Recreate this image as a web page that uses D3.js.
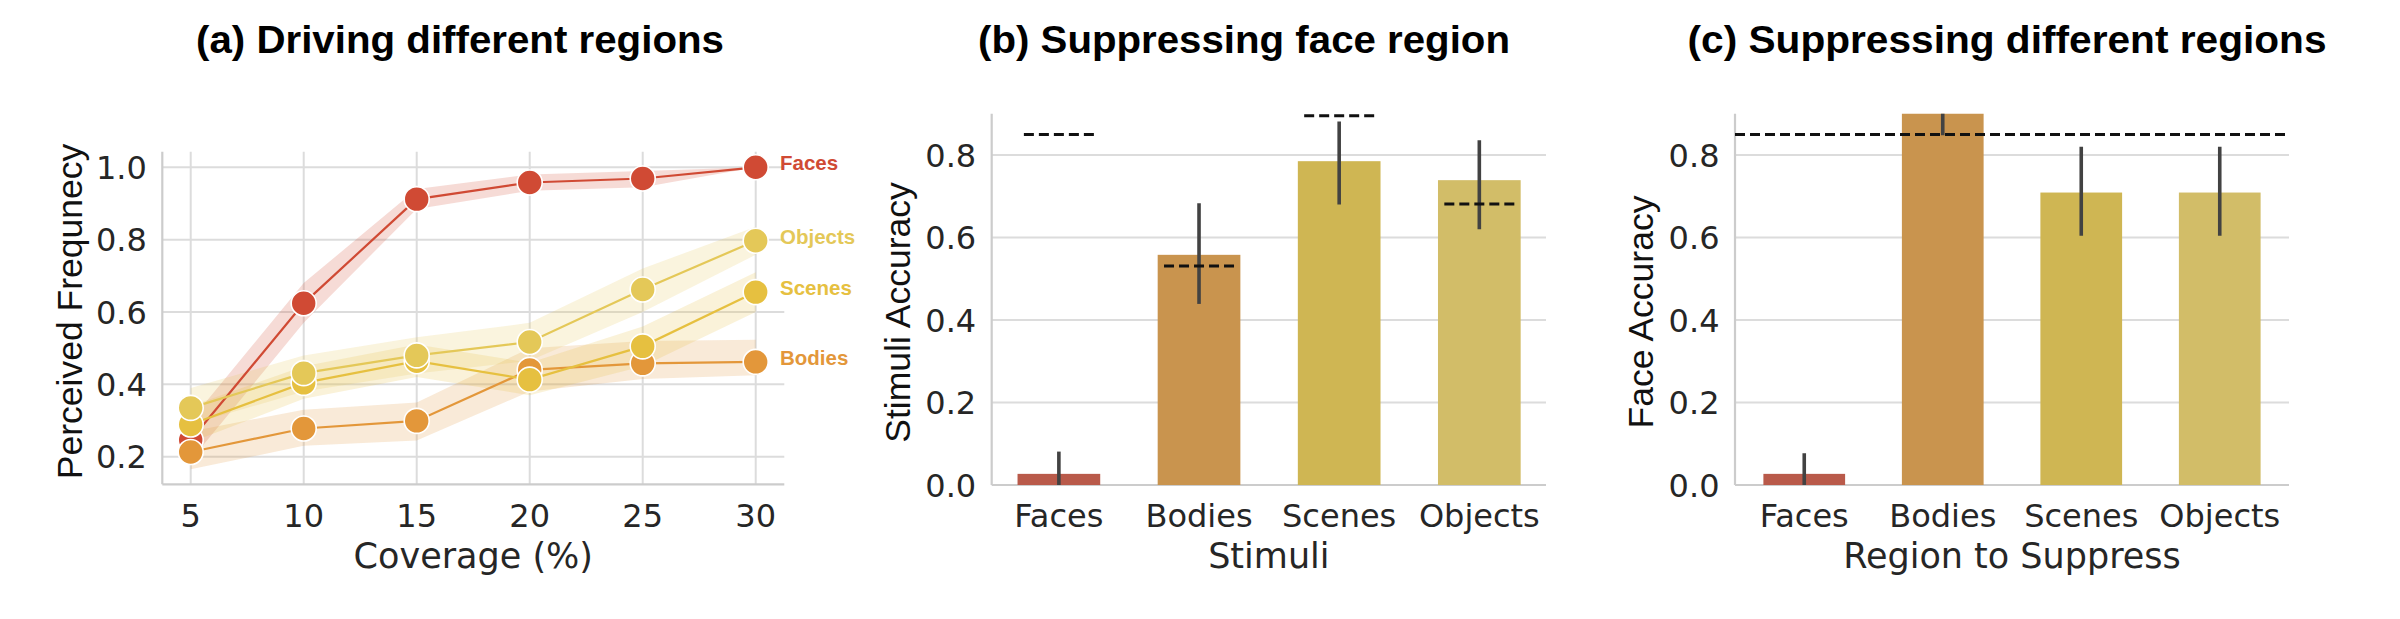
<!DOCTYPE html>
<html>
<head>
<meta charset="utf-8">
<script src="https://cdn.jsdelivr.net/npm/d3@7"></script>
<style>
  html, body { margin: 0; padding: 0; background: #ffffff; }
  svg { display: block; }
</style>
</head>
<body>
<svg id="chart" width="2400" height="619"></svg>
<script>
// ---------------- DATA ----------------
// Panel (a): perceived frequency vs. coverage
const coverage = [5, 10, 15, 20, 25, 30];
const facesMean   = [0.246, 0.624, 0.912, 0.958, 0.969, 1.000];
const facesLo     = [0.190, 0.570, 0.885, 0.935, 0.945, 1.000];
const facesHi     = [0.300, 0.680, 0.940, 0.980, 0.990, 1.000];
const bodiesMean  = [0.213, 0.278, 0.299, 0.440, 0.458, 0.462];
const bodiesLo    = [0.165, 0.230, 0.245, 0.380, 0.415, 0.425];
const bodiesHi    = [0.270, 0.330, 0.350, 0.500, 0.520, 0.523];
const scenesMean  = [0.289, 0.404, 0.464, 0.413, 0.505, 0.655];
const scenesLo    = [0.240, 0.360, 0.420, 0.370, 0.450, 0.600];
const scenesHi    = [0.340, 0.450, 0.510, 0.460, 0.560, 0.710];
const objectsMean = [0.335, 0.431, 0.480, 0.517, 0.662, 0.797];
const objectsLo   = [0.290, 0.380, 0.430, 0.465, 0.600, 0.758];
const objectsHi   = [0.390, 0.480, 0.530, 0.570, 0.720, 0.836];
const ticksA_x = [5, 10, 15, 20, 25, 30];
const ticksA_y = [0.2, 0.4, 0.6, 0.8, 1.0];

// Panel (b): suppressing face region
const categories = ["Faces", "Bodies", "Scenes", "Objects"];
const accB      = [0.027, 0.558, 0.785, 0.739];
const errLoB    = [0.000, 0.439, 0.680, 0.620];
const errHiB    = [0.081, 0.683, 0.881, 0.836];
const baselineB = [0.850, 0.531, 0.895, 0.681];

// Panel (c): suppressing different regions
const accC      = [0.027, 0.950, 0.709, 0.709];
const errLoC    = [0.000, 0.848, 0.604, 0.604];
const errHiC    = [0.077, 1.050, 0.820, 0.820];
const baselineC = 0.85;
const ticksBC_y = [0.0, 0.2, 0.4, 0.6, 0.8];

// ---------------- STYLE ----------------
const lineColors = { Faces: "#d04a34", Bodies: "#e3973a", Scenes: "#e6c040", Objects: "#e4c858" };
const barColors  = { Faces: "#b95a4a", Bodies: "#c9944e", Scenes: "#cfb653", Objects: "#d2bd68" };
const gridColor = "#dcdcdc", spineColor = "#cccccc", textColor = "#262626";
const tickFont = "DejaVu Sans", labelFont = "Liberation Sans, Arial, sans-serif";

const svg = d3.select("#chart");
svg.append("rect").attr("width", 2400).attr("height", 619).attr("fill", "#fff");

function title(x, txt, len) {
  svg.append("text").attr("x", x).attr("y", 53).attr("text-anchor", "middle")
    .attr("font-family", labelFont).attr("font-weight", "bold").attr("font-size", 39)
    .attr("textLength", len).attr("lengthAdjust", "spacingAndGlyphs")
    .attr("fill", "#000").text(txt);
}
function yLabel(x, y, txt) {
  svg.append("text").attr("transform", `translate(${x},${y}) rotate(-90)`)
    .attr("text-anchor", "middle").attr("font-family", labelFont).attr("font-size", 35.5)
    .attr("fill", "#111").text(txt);
}
function xLabel(x, txt) {
  svg.append("text").attr("x", x).attr("y", 568).attr("text-anchor", "middle")
    .attr("font-family", tickFont).attr("font-size", 35).attr("fill", textColor).text(txt);
}

// ================= PANEL A =================
{
  const left = 162.3, right = 784.3, top = 151.7, bottom = 484.3;
  const x = d3.scaleLinear().domain([5, 30]).range([190.7, 755.7]);
  const y = d3.scaleLinear().domain([0.2, 1.0]).range([456.7, 167.3]);
  const g = svg.append("g");

  // grid
  g.selectAll(".gy").data(ticksA_y).join("line")
    .attr("x1", left).attr("x2", right).attr("y1", d => y(d)).attr("y2", d => y(d))
    .attr("stroke", gridColor).attr("stroke-width", 2);
  g.selectAll(".gx").data(ticksA_x).join("line")
    .attr("x1", d => x(d)).attr("x2", d => x(d)).attr("y1", top).attr("y2", bottom)
    .attr("stroke", gridColor).attr("stroke-width", 2);
  // spines
  g.append("line").attr("x1", left).attr("x2", left).attr("y1", top).attr("y2", bottom)
    .attr("stroke", spineColor).attr("stroke-width", 2.2);
  g.append("line").attr("x1", left).attr("x2", right).attr("y1", bottom).attr("y2", bottom)
    .attr("stroke", spineColor).attr("stroke-width", 2.2);

  // tick labels
  g.selectAll(".ty").data(ticksA_y).join("text")
    .attr("x", left - 15.5).attr("y", d => y(d) + 11.5).attr("text-anchor", "end")
    .attr("font-family", tickFont).attr("font-size", 32).attr("fill", textColor)
    .text(d => d3.format(".1f")(d));
  g.selectAll(".tx").data(ticksA_x).join("text")
    .attr("x", d => x(d)).attr("y", 527).attr("text-anchor", "middle")
    .attr("font-family", tickFont).attr("font-size", 32).attr("fill", textColor)
    .text(d => d);

  const series = [
    { name: "Faces", mean: facesMean, lo: facesLo, hi: facesHi },
    { name: "Bodies", mean: bodiesMean, lo: bodiesLo, hi: bodiesHi },
    { name: "Scenes", mean: scenesMean, lo: scenesLo, hi: scenesHi },
    { name: "Objects", mean: objectsMean, lo: objectsLo, hi: objectsHi },
  ];
  const area = d3.area().x((d, i) => x(coverage[i])).y0(d => y(d[0])).y1(d => y(d[1]));
  const line = d3.line().x((d, i) => x(coverage[i])).y(d => y(d));

  series.forEach(s => {
    const band = s.lo.map((v, i) => [v, s.hi[i]]);
    g.append("path").datum(band).attr("d", area)
      .attr("fill", lineColors[s.name]).attr("fill-opacity", 0.2);
  });
  series.forEach(s => {
    g.append("path").datum(s.mean).attr("d", line)
      .attr("fill", "none").attr("stroke", lineColors[s.name]).attr("stroke-width", 2.2);
    g.selectAll(null).data(s.mean).join("circle")
      .attr("cx", (d, i) => x(coverage[i])).attr("cy", d => y(d)).attr("r", 12.5)
      .attr("fill", lineColors[s.name]).attr("stroke", "#fff").attr("stroke-width", 1.6);
  });

  // inline labels
  series.forEach(s => {
    const last = s.mean[s.mean.length - 1];
    g.append("text").attr("x", 780).attr("y", y(last) + 3)
      .attr("font-family", labelFont).attr("font-weight", "bold").attr("font-size", 20.5)
      .attr("fill", lineColors[s.name]).text(s.name);
  });

  title(460, "(a) Driving different regions", 528);
  yLabel(82.3, 311.5, "Perceived Frequnecy");
  xLabel((left + right) / 2, "Coverage (%)");
}

// ================= BAR PANEL helper =================
function barPanel(opts) {
  const { left, right, bandRange, acc, lo, hi, clipId } = opts;
  const top = 113.75, bottom = 485;
  const y = d3.scaleLinear().domain([0, 0.9]).range([bottom, top]);
  const x = d3.scaleBand().domain(categories).range(bandRange).padding(0);
  const bw = x.bandwidth() * 0.59;
  const g = svg.append("g");

  svg.append("clipPath").attr("id", clipId).append("rect")
    .attr("x", left).attr("y", top).attr("width", right - left + 60).attr("height", bottom - top);

  g.selectAll(".gy").data(ticksBC_y.filter(d => d > 0)).join("line")
    .attr("x1", left).attr("x2", right).attr("y1", d => y(d)).attr("y2", d => y(d))
    .attr("stroke", gridColor).attr("stroke-width", 2);
  g.append("line").attr("x1", left).attr("x2", left).attr("y1", top).attr("y2", bottom)
    .attr("stroke", spineColor).attr("stroke-width", 2.2);
  g.append("line").attr("x1", left).attr("x2", right).attr("y1", bottom).attr("y2", bottom)
    .attr("stroke", spineColor).attr("stroke-width", 2.2);

  g.selectAll(".ty").data(ticksBC_y).join("text")
    .attr("x", left - 15.5).attr("y", d => y(d) + 11.5).attr("text-anchor", "end")
    .attr("font-family", tickFont).attr("font-size", 32).attr("fill", textColor)
    .text(d => d3.format(".1f")(d));
  g.selectAll(".tx").data(categories).join("text")
    .attr("x", d => x(d) + x.bandwidth() / 2).attr("y", 527).attr("text-anchor", "middle")
    .attr("font-family", tickFont).attr("font-size", 32).attr("fill", textColor)
    .text(d => d);

  const cg = g.append("g").attr("clip-path", `url(#${clipId})`);
  cg.selectAll("rect.bar").data(categories).join("rect")
    .attr("x", d => x(d) + x.bandwidth() / 2 - bw / 2)
    .attr("width", bw)
    .attr("y", (d, i) => y(acc[i]))
    .attr("height", (d, i) => bottom - y(acc[i]))
    .attr("fill", d => barColors[d]);
  cg.selectAll("line.err").data(categories).join("line")
    .attr("x1", d => x(d) + x.bandwidth() / 2).attr("x2", d => x(d) + x.bandwidth() / 2)
    .attr("y1", (d, i) => y(lo[i])).attr("y2", (d, i) => y(hi[i]))
    .attr("stroke", "#424242").attr("stroke-width", 3.6);
  return { g, x, y, cg, bw };
}

// ================= PANEL B =================
{
  const p = barPanel({ left: 991.7, right: 1546, bandRange: [988.8, 1549.4],
    acc: accB, lo: errLoB, hi: errHiB, clipId: "clipB" });
  p.g.selectAll("line.base").data(categories).join("line")
    .attr("x1", d => p.x(d) + p.x.bandwidth() / 2 - 35)
    .attr("x2", d => p.x(d) + p.x.bandwidth() / 2 + 35)
    .attr("y1", (d, i) => p.y(baselineB[i])).attr("y2", (d, i) => p.y(baselineB[i]))
    .attr("stroke", "#111").attr("stroke-width", 3).attr("stroke-dasharray", "10,5");
  title(1244, "(b) Suppressing face region", 532);
  yLabel(910, 312.5, "Stimuli Accuracy");
  xLabel((991.7 + 1546) / 2, "Stimuli");
}

// ================= PANEL C =================
{
  const p = barPanel({ left: 1735, right: 2289, bandRange: [1735, 2289],
    acc: accC, lo: errLoC, hi: errHiC, clipId: "clipC" });
  p.g.append("line")
    .attr("x1", 1735).attr("x2", 2289)
    .attr("y1", p.y(baselineC)).attr("y2", p.y(baselineC))
    .attr("stroke", "#111").attr("stroke-width", 3).attr("stroke-dasharray", "10,5");
  title(2007, "(c) Suppressing different regions", 639);
  yLabel(1653, 312, "Face Accuracy");
  xLabel((1735 + 2289) / 2, "Region to Suppress");
}
</script>
</body>
</html>
